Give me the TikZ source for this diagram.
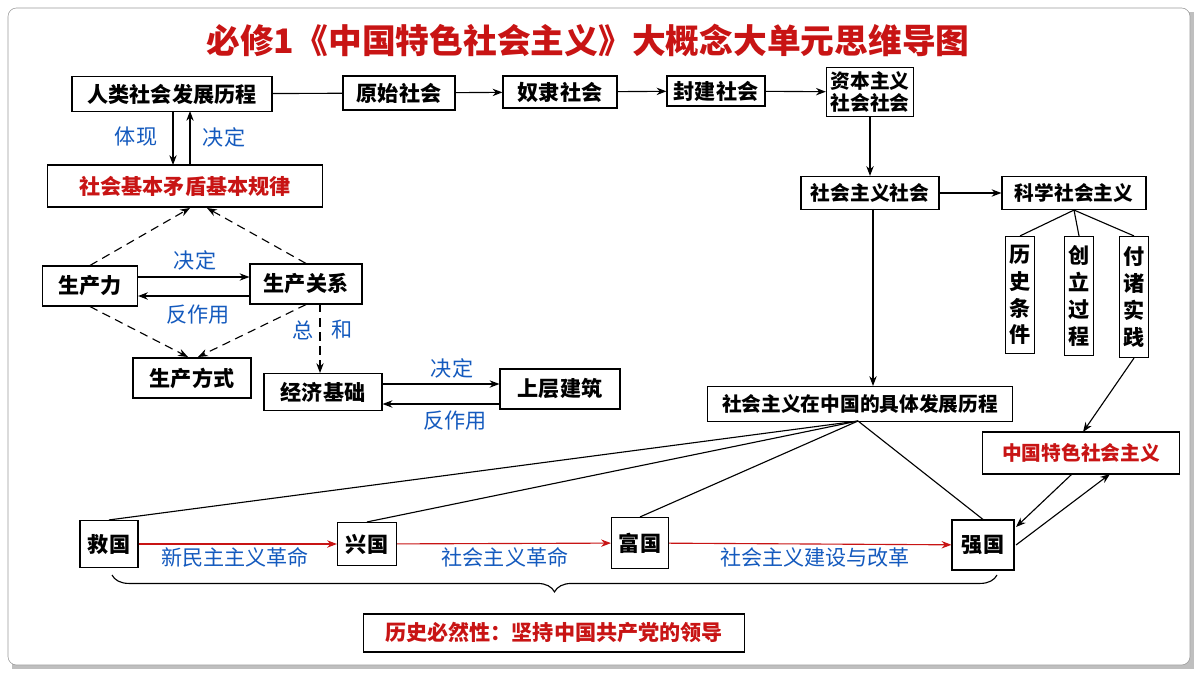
\documentclass[tikz,border=0pt]{standalone}
\usepackage{fontspec}
\usetikzlibrary{arrows.meta,decorations.pathreplacing}
\newfontfamily\cjk{Noto Sans CJK SC}
\newcommand{\cjkb}{\cjk\bfseries}
\definecolor{titlered}{RGB}{200,20,20}
\definecolor{lblue}{RGB}{20,90,190}
\tikzset{
  box/.style={draw=black, thick, fill=white, font=\cjkb\fontsize{15}{17}\selectfont, inner sep=2pt},
  redbox/.style={box, text=titlered},
  vbox/.style={box, align=center, inner sep=3pt, font=\cjkb\fontsize{15}{19}\selectfont},
  lbl/.style={font=\cjk\fontsize{15}{17}\selectfont, text=lblue},
  arr/.style={-{Stealth[length=7pt]}, thick},
  dasharr/.style={arr, dashed, dash pattern=on 6pt off 4pt},
  redarr/.style={-{Stealth[length=7pt]}, thick, titlered}
}
\begin{document}
\begin{tikzpicture}[x=0.025cm, y=-0.025cm]
\useasboundingbox (0,0) rectangle (1200,675);
\fill[black!25] (12,12) rectangle (1194,669);
\draw[black!40, fill=white, rounded corners=6pt] (8,8) rectangle (1190,665);
\node (title) at (588,40) {\cjkb\fontsize{24}{28}\selectfont\textcolor{titlered}{必修1《中国特色社会主义》大概念大单元思维导图}};
% top row
\node[box, minimum width=200*0.025cm, minimum height=35*0.025cm] (hist) at (172,94) {人类社会发展历程};
\node[box, minimum width=112*0.025cm, minimum height=34*0.025cm] (prim) at (399,93) {原始社会};
\node[box, minimum width=114*0.025cm, minimum height=32*0.025cm] (slave) at (560,92) {奴隶社会};
\node[box, minimum width=98*0.025cm, minimum height=30*0.025cm] (feud) at (716,91) {封建社会};
\node[box, align=center, inner sep=3pt, font=\cjkb\fontsize{14}{16}\selectfont] (cap) at (870,92) {资本主义\\社会社会};
\draw[thick] (hist) -- (prim);
\draw[arr] (prim) -- (slave);
\draw[arr] (slave) -- (feud);
\draw[arr] (feud) -- (cap);
% basic law
\node[redbox, minimum width=275*0.025cm, minimum height=42*0.025cm] (law) at (185,186) {社会基本矛盾基本规律};
\draw[arr] (173,111) -- (173,165);
\draw[arr] (190,165) -- (190,111);
\node[lbl] (tx) at (136,137) {体现};
\node[lbl] (jd) at (224,137) {决定};
\node[box, minimum width=95*0.025cm, minimum height=40*0.025cm] (pf) at (90,286) {生产力};
\node[box, minimum width=112*0.025cm, minimum height=40*0.025cm] (pr) at (306,284) {生产关系};
\node[box, minimum width=118*0.025cm, minimum height=40*0.025cm] (pm) at (192,378) {生产方式};
\node[box, minimum width=118*0.025cm, minimum height=37*0.025cm] (eb) at (323,392) {经济基础};
\node[box, minimum width=120*0.025cm, minimum height=40*0.025cm] (sb) at (560,389) {上层建筑};
\draw[dasharr] (pf.north) -- (190,208);
\draw[dasharr] (pr.north) -- (207,208);
\draw[dasharr] (pf.south) -- (188,357);
\draw[dasharr] (pr.south) -- (198,357);
\draw[dasharr] (320,304) -- (320,373);
\node[lbl] (z) at (303,330) {总};
\node[lbl] (h) at (342,330) {和};
\draw[arr] (pf.east |- 0,277) -- (pr.west |- 0,277);
\draw[arr] (pr.west |- 0,296) -- (pf.east |- 0,296);
\node[lbl] (jd2) at (195,260) {决定};
\node[lbl] (fz) at (198,315) {反作用};
\draw[arr] (eb.east |- 0,384) -- (sb.west |- 0,384);
\draw[arr] (sb.west |- 0,404) -- (eb.east |- 0,404);
\node[lbl] (jd3) at (452,368) {决定};
\node[lbl] (fz2) at (455,421) {反作用};
% right part
\node[box, minimum width=138*0.025cm, minimum height=33*0.025cm, font=\cjkb\fontsize{14}{16}\selectfont] (soc) at (870,193) {社会主义社会};
\node[box, minimum width=144*0.025cm, minimum height=33*0.025cm, font=\cjkb\fontsize{14}{16}\selectfont] (sci) at (1074,193) {科学社会主义};
\draw[arr] (cap) -- (soc);
\draw[arr] (soc) -- (sci);
\node[vbox, minimum height=117*0.025cm] (v1) at (1020,295) {历\\史\\条\\件};
\node[vbox, minimum height=119*0.025cm] (v2) at (1079,296) {创\\立\\过\\程};
\node[vbox, minimum height=121*0.025cm] (v3) at (1134,297) {付\\诸\\实\\践};
\draw[thick] (sci.south) -- (v1.north);
\draw[thick] (sci.south) -- (v2.north);
\draw[thick] (sci.south) -- (v3.north);
\node[box, minimum width=305*0.025cm, minimum height=35*0.025cm, font=\cjkb\fontsize{14}{16}\selectfont] (cn) at (860,404) {社会主义在中国的具体发展历程};
\draw[arr] (873,209) -- (873,386);
\node[redbox, minimum width=197*0.025cm, minimum height=42*0.025cm, font=\cjkb\fontsize{14}{16}\selectfont] (tese) at (1081,453) {中国特色社会主义};
\draw[arr] (v3.south) -- (1083,432);
\draw[arr] (1072,474) -- (1016,527);
\draw[arr] (1016,545) -- (1110,474);
% bottom row
\node[box, minimum width=58*0.025cm, minimum height=47*0.025cm] (jg) at (109,544) {救国};
\node[box, minimum width=59*0.025cm, minimum height=43*0.025cm] (xg) at (367,544) {兴国};
\node[box, minimum width=57*0.025cm, minimum height=51*0.025cm] (fg) at (640,543) {富国};
\node[box, minimum width=62*0.025cm, minimum height=50*0.025cm] (qg) at (983,545) {强国};
\coordinate (cnb) at (858,421);
\draw[thick] (cnb) -- (jg.north);
\draw[thick] (cnb) -- (xg.north);
\draw[thick] (cnb) -- (fg.north);
\draw[thick] (cnb) -- (qg.north);
\draw[redarr] (jg) -- (xg);
\draw[redarr] (xg) -- (fg);
\draw[redarr] (fg) -- (qg);
\node[lbl] (l1) at (235,557) {新民主主义革命};
\node[lbl] (l2) at (505,557) {社会主义革命};
\node[lbl] (l3) at (815,557) {社会主义建设与改革};
\draw[decorate, decoration={brace, mirror, amplitude=12pt}, thick] (112,575) -- (997,575);
\node[redbox, minimum width=381*0.025cm, minimum height=38*0.025cm] (lead) at (554,633) {历史必然性：坚持中国共产党的领导};
\end{tikzpicture}
\end{document}
